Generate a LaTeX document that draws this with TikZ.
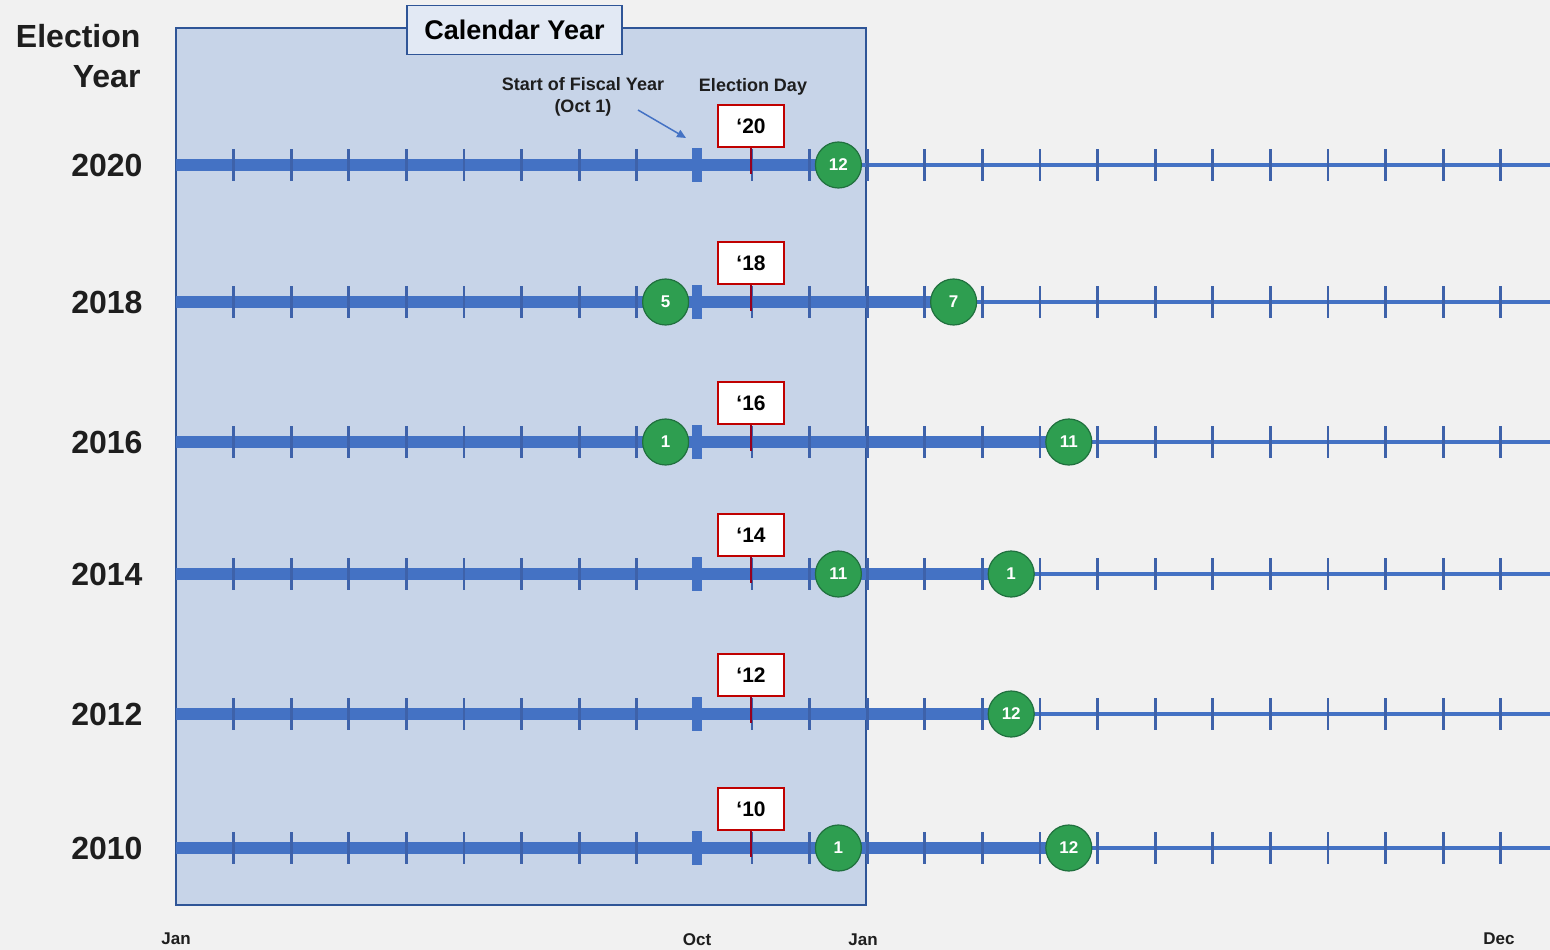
\documentclass[tikz,border=0pt]{standalone}
\usepackage{fontspec}
\setmainfont{Liberation Sans}
\usetikzlibrary{arrows.meta,positioning,calc}
\definecolor{bgGray}{RGB}{241,241,241}
\definecolor{calFill}{RGB}{199,212,232}
\definecolor{tabFill}{RGB}{226,233,244}
\definecolor{calBlue}{RGB}{47,85,151}
\definecolor{barBlue}{RGB}{68,114,196}
\definecolor{tickBlue}{RGB}{62,98,170}
\definecolor{dotGreen}{RGB}{46,158,80}
\definecolor{dotEdge}{RGB}{32,112,62}
\definecolor{flagRed}{RGB}{192,0,0}
\definecolor{stemRed}{RGB}{150,0,30}
\definecolor{inkGray}{RGB}{30,30,30}

\begin{document}
\begin{tikzpicture}[
        x=1pt, y=-1pt,
        yearlabel/.style={anchor=east, text=inkGray, font=\bfseries\fontsize{32}{32}\selectfont},
        month/.style={text=inkGray, font=\bfseries\fontsize{17}{17}\selectfont},
        note/.style={text=inkGray, align=center, font=\bfseries\fontsize{18}{22}\selectfont},
        flag/.style={draw=flagRed, fill=white, line width=1.2pt, minimum width=66pt, minimum height=42pt, inner sep=0pt, text=black, font=\bfseries\fontsize{21}{21}\selectfont},
        dot/.style={circle, draw=dotEdge, fill=dotGreen, line width=1.2pt, minimum size=46pt, inner sep=0pt, text=white, font=\bfseries\fontsize{17}{17}\selectfont},
        thinbar/.style={barBlue, line width=3.5pt},
        thickbar/.style={barBlue, line width=12.5pt},
        monthtick/.style={tickBlue, line width=2.8pt},
        octtick/.style={barBlue, line width=10pt},
        stem/.style={stemRed, line width=2.8pt},
        pointer/.style={-{Triangle[length=9pt,width=8pt]}, barBlue, line width=1.5pt}
    ]
        % Background and calendar year panel
        \fill[bgGray] (0,0) rectangle (1550,950);
        \useasboundingbox (0,0) rectangle (1550,950);
        \draw[calBlue, fill=calFill, line width=2.5pt] (176,28) rectangle (866,905);
        \node[draw=calBlue, fill=tabFill, line width=1.5pt, minimum width=215pt, minimum height=49pt,
              text=black, font=\bfseries\fontsize{27}{27}\selectfont] (calyear) at (514.5,30) {Calendar Year};

        % Header
        \node[yearlabel, align=right, font=\bfseries\fontsize{32}{40}\selectfont] (header) at (144,56) {Election\\Year};

        % Timelines
        \foreach \yr/\sh/\y/\last in {2020/20/165/11.5, 2018/18/302/13.5, 2016/16/442/15.5,
                                        2014/14/574/14.5, 2012/12/714/14.5, 2010/10/848/15.5} {
            \coordinate (start\yr) at (176,\y);
            \coordinate (stop\yr) at (1550,\y);
            \coordinate (end\yr) at ({176+57.6*\last},\y);
            \draw[thinbar] (start\yr) -- (stop\yr);
            \draw[thickbar] (start\yr) -- (end\yr);
            \foreach \m in {1,...,23}
                \draw[monthtick] ({176+57.6*\m},\y-16) -- ({176+57.6*\m},\y+16);
            \draw[octtick] (697,\y-17) -- (697,\y+17);
            \node[flag] (flag\yr) at (751,\y-39) {‘\sh};
            \coordinate (stemEnd\yr) at (751,\y+9);
            \draw[stem] (flag\yr.south) -- (stemEnd\yr);
            \node[yearlabel] (year\yr) at (146,\y) {\yr};
        }

        % Months
        \node[dot] (d2020a) at ({176+57.6*11.5},165) {12};
        \node[dot] (d2018a) at ({176+57.6*8.5},302) {5};
        \node[dot] (d2018b) at ({176+57.6*13.5},302) {7};
        \node[dot] (d2016a) at ({176+57.6*8.5},442) {1};
        \node[dot] (d2016b) at ({176+57.6*15.5},442) {11};
        \node[dot] (d2014a) at ({176+57.6*11.5},574) {11};
        \node[dot] (d2014b) at ({176+57.6*14.5},574) {1};
        \node[dot] (d2012a) at ({176+57.6*14.5},714) {12};
        \node[dot] (d2010a) at ({176+57.6*11.5},848) {1};
        \node[dot] (d2010b) at ({176+57.6*15.5},848) {12};

        % Annotations
        \node[note] (fiscal) at (583,97) {Start of Fiscal Year\\(Oct 1)};
        \node[note] (eday) at (753,87) {Election Day};
        \coordinate (arrowFrom) at (638,110);
        \coordinate (arrowTo) at (686,138);
        \draw[pointer] (arrowFrom) -- (arrowTo);

        % Axis labels
        \node[month] (mJan) at (176,939) {Jan};
        \node[month] (mOct) at (697,940) {Oct};
        \node[month] (mJanNext) at (863,940) {Jan};
        \node[month] (mDec) at (1499,939) {Dec};

    \end{tikzpicture}
\end{document}
